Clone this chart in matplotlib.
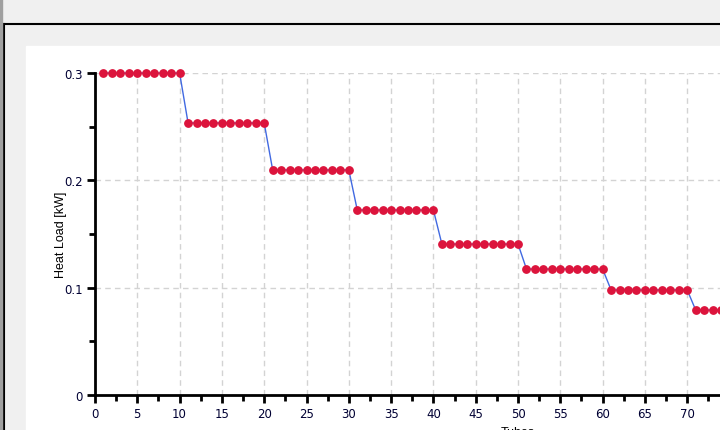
import matplotlib.pyplot as plt
from matplotlib.patches import Rectangle
from matplotlib.lines import Line2D
from matplotlib.ticker import MultipleLocator, FuncFormatter

# Heat load per tube (stepped, 10 tubes per row)
tubes = list(range(1, 81))
step_loads = [0.300, 0.2535, 0.2097, 0.1724, 0.1407, 0.1174, 0.0979, 0.0792]
heat_load = [step_loads[(t - 1) // 10] for t in tubes]

x_label = "Tubes"
y_label = "Heat Load [kW]"

W, H = 720, 431
fig = plt.figure(figsize=(W / 100, H / 100), dpi=100, facecolor='#f0f0f0')

# window chrome
fig.patches.append(Rectangle((0, 0), 2 / W, 1, transform=fig.transFigure,
                             color='#a0a0a0', zorder=-5))
fig.lines.append(Line2D([3 / W, 1], [1 - 24.5 / H, 1 - 24.5 / H],
                        transform=fig.transFigure, color='black', lw=1.5, zorder=-5))
fig.lines.append(Line2D([3.5 / W, 3.5 / W], [0, 1 - 24.5 / H],
                        transform=fig.transFigure, color='black', lw=1.5, zorder=-5))
fig.patches.append(Rectangle((26 / W, 0), 1, 1 - 47 / H, transform=fig.transFigure,
                             color='white', zorder=-5))

# plot area (extends past the right edge like the screenshot)
left, right_px, top, bottom = 95, 95 + 8.46 * 100, 74, 396
ax = fig.add_axes([left / W, 1 - bottom / H, (right_px - left) / W, (bottom - top) / H])
ax.set_zorder(5)
ax.set_facecolor('white')

ax.plot(tubes, heat_load, color='#4169e1', lw=1, zorder=3, clip_on=False,
        marker='o', markersize=5.3, markerfacecolor='#dc143c', markeredgecolor='#dc143c')

ax.set_xlim(0, 100)
ax.set_ylim(0, 0.3)
ax.xaxis.set_major_locator(MultipleLocator(5))
ax.xaxis.set_minor_locator(MultipleLocator(2.5))
ax.yaxis.set_major_locator(MultipleLocator(0.1))
ax.yaxis.set_minor_locator(MultipleLocator(0.05))
ax.yaxis.set_major_formatter(FuncFormatter(lambda v, p: '0' if abs(v) < 1e-9 else f'{v:.1f}'))

for s in ['top', 'right']:
    ax.spines[s].set_visible(False)
for s in ['left', 'bottom']:
    ax.spines[s].set_linewidth(2)
    ax.spines[s].set_color('black')

ax.tick_params(which='major', direction='out', length=6, width=2, labelsize=8.5,
               labelcolor='#000033', pad=3)
ax.tick_params(which='minor', direction='out', length=4, width=2)
ax.grid(True, which='major', color='#d3d3d3', linestyle=(0, (4, 3)), lw=1)
ax.set_axisbelow(True)

ax.set_ylabel(y_label, fontsize=9, family='Liberation Sans', labelpad=-2)
ax.set_xlabel(x_label, fontsize=9, family='Liberation Sans', labelpad=4)

plt.savefig('out.png', dpi=100, facecolor=fig.get_facecolor())
